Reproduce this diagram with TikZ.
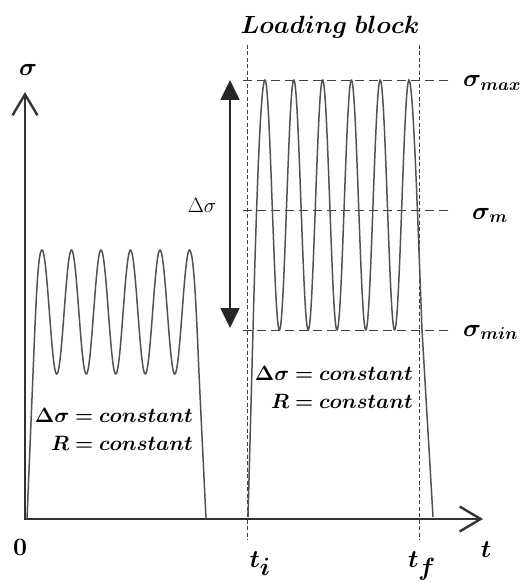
\documentclass[tikz,border=0pt]{standalone}
\usepackage{amsmath,bm}
\usetikzlibrary{arrows.meta}
\newcommand{\subsz}[1]{\mbox{\fontsize{18}{19}\selectfont$\boldsymbol{#1}$}}
\begin{document}
\begin{tikzpicture}[x=1pt,y=-1pt,
  axis/.style={line width=2.4pt, draw=black!80, line join=miter,
    {Straight Barb[length=21pt,width=25pt]}-{Straight Barb[length=21pt,width=25pt]}},
  sig/.style={line width=1.5pt, draw=black!68},
  vdash/.style={line width=0.8pt, dash pattern=on 4pt off 2.5pt, draw=black!75},
  hdash/.style={line width=0.9pt, dash pattern=on 9pt off 5pt, draw=black!75},
  rangearrow/.style={line width=1.8pt, draw=black!85,
    {Triangle[length=20pt,width=19pt]}-{Triangle[length=20pt,width=19pt]}},
  lbl/.style={inner sep=0pt, anchor=base, font=\fontsize{24}{26}\selectfont},
  note/.style={inner sep=0pt, anchor=base east, font=\fontsize{20}{22}\selectfont},
]
\useasboundingbox (0,0) rectangle (520,583);
% axes
\coordinate (O) at (25,519);
\coordinate (ytip) at (25,92);
\coordinate (xtip) at (483,519);
\draw[axis] (ytip) -- (O) -- (xtip);
% dashed guides
\coordinate (ti1) at (247,45);  \coordinate (ti2) at (247,540);
\coordinate (tf1) at (419,45);  \coordinate (tf2) at (419,540);
\draw[vdash] (ti1) -- (ti2);
\draw[vdash] (tf1) -- (tf2);
\coordinate (hmax1) at (243,80);  \coordinate (hmax2) at (453,80);
\coordinate (hm1) at (243,210);   \coordinate (hm2) at (453,210);
\coordinate (hmin1) at (243,330); \coordinate (hmin2) at (453,330);
\draw[hdash] (hmax1) -- (hmax2);
\draw[hdash] (hm1) -- (hm2);
\draw[hdash] (hmin1) -- (hmin2);
% first signal
\draw[sig] (27,519) -- (33,374) .. controls (36,300) and (38,250) .. (42,250)
  -- plot[domain=0:5, samples=300, smooth] ({42+29.5*\x}, {312-62*cos(360*\x)})
  .. controls (193.5,250) and (196,300) .. (199,374) -- (206,519);
% second signal
\draw[sig] (248,517) -- (253,330) .. controls (257,180) and (261,80) .. (265,80)
  -- plot[domain=0:5, samples=300, smooth] ({265+28.8*\x}, {205-125*cos(360*\x)})
  .. controls (413,80) and (417,200) .. (422,330) -- (433,517);
% range arrow
\coordinate (rtop) at (230,80);
\coordinate (rbot) at (230,328);
\draw[rangearrow] (rtop) -- (rbot);
% labels
\node[lbl, font=\fontsize{36}{38}\selectfont] (sigma) at (28,76) {$\boldsymbol{\sigma}$};
\node[lbl, font=\fontsize{30}{32}\selectfont] (zero) at (20,555) {$\boldsymbol{0}$};
\node[lbl, font=\fontsize{38}{40}\selectfont] (t) at (486,557) {$\boldsymbol{t}$};
\node[lbl, font=\fontsize{36}{38}\selectfont] (ti) at (260,567) {$\boldsymbol{t_i}$};
\node[lbl, font=\fontsize{36}{38}\selectfont] (tf) at (422,567) {$\boldsymbol{t_f}$};
\node[lbl, font=\fontsize{25.5}{27}\selectfont] (lb) at (330,34) {$\boldsymbol{Loading\ block}$};
\node[lbl, font=\fontsize{22}{24}\selectfont] (ds) at (202,212) {$\Delta\sigma$};
\node[lbl, anchor=base west, font=\fontsize{28}{30}\selectfont] (smax) at (463,87) {$\boldsymbol{\sigma}_{\subsz{max}}$};
\node[lbl, anchor=base west, font=\fontsize{28}{30}\selectfont] (sm) at (472,219) {$\boldsymbol{\sigma}_{\subsz{m}}$};
\node[lbl, anchor=base west, font=\fontsize{28}{30}\selectfont] (smin) at (463,336) {$\boldsymbol{\sigma}_{\subsz{min}}$};
\node[note] (n1) at (193,422) {$\boldsymbol{\Delta\sigma = constant}$};
\node[note] (n2) at (193,450) {$\boldsymbol{R = constant}$};
\node[note] (n3) at (413,380) {$\boldsymbol{\Delta\sigma = constant}$};
\node[note] (n4) at (413,408) {$\boldsymbol{R = constant}$};
\end{tikzpicture}
\end{document}
